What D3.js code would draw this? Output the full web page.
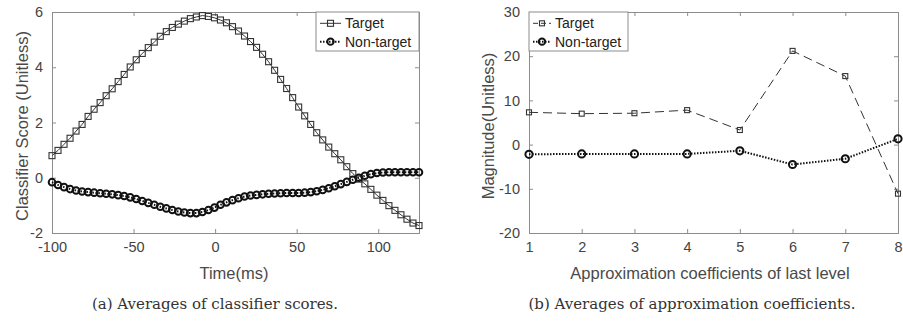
<!DOCTYPE html>
<html>
<head>
<meta charset="utf-8">
<script src="https://cdn.jsdelivr.net/npm/d3@7"></script>
<style>
  body { margin: 0; background: #fff; }
  .tick text { font-family: "Liberation Sans", Arial, sans-serif; font-size: 14.5px; fill: #444; }
  .lbl { font-family: "Liberation Sans", Arial, sans-serif; font-size: 16.5px; fill: #4a4a4a; }
  .cap { font-family: "DejaVu Serif", serif; font-size: 15px; fill: #333; }
  .leg { font-family: "Liberation Sans", Arial, sans-serif; font-size: 14px; fill: #222; }
</style>
</head>
<body>
<svg id="chart" width="903" height="321"></svg>
<script>
// DATA (a) classifier scores
const timeMs = [-100, -96.31, -92.62, -88.93, -85.25, -81.56, -77.87, -74.18, -70.49, -66.8,
  -63.11, -59.43, -55.74, -52.05, -48.36, -44.67, -40.98, -37.3, -33.61, -29.92,
  -26.23, -22.54, -18.85, -15.16, -11.48, -7.79, -4.1, -0.41, 3.28, 6.97,
  10.66, 14.34, 18.03, 21.72, 25.41, 29.1, 32.79, 36.48, 40.16, 43.85,
  47.54, 51.23, 54.92, 58.61, 62.3, 65.98, 69.67, 73.36, 77.05, 80.74,
  84.43, 88.11, 91.8, 95.49, 99.18, 102.87, 106.56, 110.25, 113.93, 117.62,
  121.31, 125];
const targetScore = [0.80, 0.99, 1.21, 1.43, 1.69, 1.93, 2.22, 2.48, 2.72, 2.97,
  3.22, 3.48, 3.74, 4.01, 4.27, 4.50, 4.71, 4.91, 5.12, 5.29,
  5.44, 5.56, 5.67, 5.76, 5.82, 5.87, 5.84, 5.79, 5.71, 5.61,
  5.47, 5.31, 5.13, 4.93, 4.72, 4.47, 4.20, 3.89, 3.56, 3.23,
  2.90, 2.56, 2.24, 1.93, 1.63, 1.37, 1.11, 0.87, 0.65, 0.40,
  0.15, -0.05, -0.22, -0.42, -0.63, -0.82, -1.01, -1.18, -1.34, -1.50,
  -1.64, -1.73];
const nonTargetScore = [-0.16, -0.26, -0.34, -0.41, -0.46, -0.50, -0.52, -0.54, -0.56, -0.58,
  -0.60, -0.63, -0.66, -0.71, -0.77, -0.84, -0.91, -0.98, -1.05, -1.11,
  -1.17, -1.22, -1.26, -1.28, -1.28, -1.24, -1.17, -1.08, -0.98, -0.89,
  -0.81, -0.74, -0.68, -0.64, -0.62, -0.60, -0.58, -0.57, -0.56, -0.55,
  -0.55, -0.55, -0.54, -0.52, -0.49, -0.44, -0.38, -0.31, -0.23, -0.15,
  -0.07, 0.00, 0.07, 0.13, 0.17, 0.19, 0.20, 0.20, 0.20, 0.20,
  0.20, 0.20];
const timeTicks = [-100, -50, 0, 50, 100];
const scoreTicks = [-2, 0, 2, 4, 6];

// DATA (b) approximation coefficients
const coefIndex = [1, 2, 3, 4, 5, 6, 7, 8];
const targetCoef = [7.3, 7.0, 7.1, 7.8, 3.3, 21.2, 15.5, -11.1];
const nonTargetCoef = [-2.2, -2.1, -2.1, -2.1, -1.4, -4.5, -3.2, 1.3];
const coefTicks = [-20, -10, 0, 10, 20, 30];

const seriesNames = ['Target', 'Non-target'];

const svg = d3.select('#chart');
const axisColor = '#8c8c8c';

function drawFrame(g, x, y, xTicks, yTicks) {
  const [x0, x1] = x.range();
  const [y0, y1] = y.range();
  g.append('g').attr('transform', `translate(0,${y0})`)
    .call(d3.axisBottom(x).tickValues(xTicks).tickSize(-4).tickPadding(9).tickFormat(d3.format('d')));
  g.append('g').attr('transform', `translate(0,${y1})`)
    .call(d3.axisTop(x).tickValues(xTicks).tickSize(-4).tickFormat(''));
  g.append('g').attr('transform', `translate(${x0},0)`)
    .call(d3.axisLeft(y).tickValues(yTicks).tickSize(-4).tickPadding(9).tickFormat(d3.format('d')));
  g.append('g').attr('transform', `translate(${x1},0)`)
    .call(d3.axisRight(y).tickValues(yTicks).tickSize(-4).tickFormat(''));
  g.selectAll('.domain, .tick line').attr('stroke', axisColor);
  g.selectAll('.tick text').attr('fill', '#444').text(function() { return this.textContent.replace('−', '-'); });
}

function squareMarks(g, pts, size, color) {
  g.selectAll(null).data(pts).enter()
    .append('rect')
      .attr('x', d => d[0] - size / 2)
      .attr('y', d => d[1] - size / 2)
      .attr('width', size)
      .attr('height', size)
      .attr('fill', 'none')
      .attr('stroke', color)
      .attr('stroke-width', 1.1);
}

function circleMarks(g, pts, r, color) {
  g.selectAll(null).data(pts).enter()
    .append('circle')
      .attr('cx', d => d[0])
      .attr('cy', d => d[1])
      .attr('r', r)
      .attr('fill', 'none')
      .attr('stroke', color)
      .attr('stroke-width', 2);
}

function legend(g, x, y, w, h, lineLen, targetDash, markSize) {
  g.append('rect').attr('x', x).attr('y', y).attr('width', w).attr('height', h)
    .attr('fill', '#fff').attr('stroke', axisColor);
  const rows = [y + h * 0.29, y + h * 0.76];
  // Target
  g.append('line').attr('x1', x + 4).attr('x2', x + 4 + lineLen).attr('y1', rows[0]).attr('y2', rows[0])
    .attr('stroke', '#333').attr('stroke-width', 1).attr('stroke-dasharray', targetDash);
  squareMarks(g, [[x + 4 + lineLen / 2, rows[0]]], markSize, '#333');
  // Non-target
  g.append('line').attr('x1', x + 4).attr('x2', x + 4 + lineLen).attr('y1', rows[1]).attr('y2', rows[1])
    .attr('stroke', '#111').attr('stroke-width', 2).attr('stroke-dasharray', '1.5,1.5');
  circleMarks(g, [[x + 4 + lineLen / 2, rows[1]]], 3.2, '#111');
  g.selectAll(null).data(seriesNames).enter()
    .append('text')
      .attr('class', 'leg')
      .attr('x', x + 8 + lineLen)
      .attr('y', (d, i) => rows[i] + 5)
      .text(d => d);
}

// ---------- (a) ----------
const xA = d3.scaleLinear().domain([-100, 125]).range([52, 419]);
const yA = d3.scaleLinear().domain([-2, 6]).range([233, 12]);
const gA = svg.append('g');
drawFrame(gA, xA, yA, timeTicks, scoreTicks);

const lineA = d3.line().x(d => xA(d[0])).y(d => yA(d[1]));
const tPts = timeMs.map((t, i) => [t, targetScore[i]]);
const nPts = timeMs.map((t, i) => [t, nonTargetScore[i]]);
gA.append('path').attr('d', lineA(tPts)).attr('fill', 'none').attr('stroke', '#333').attr('stroke-width', 1);
squareMarks(gA, tPts.map(d => [xA(d[0]), yA(d[1])]), 6, '#333');
gA.append('path').attr('d', lineA(nPts)).attr('fill', 'none').attr('stroke', '#111')
  .attr('stroke-width', 2).attr('stroke-dasharray', '1.5,1.5');
circleMarks(gA, nPts.map(d => [xA(d[0]), yA(d[1])]), 3.3, '#111');

legend(gA, 316, 12, 103, 39, 21, null, 6);

gA.append('text').attr('class', 'lbl').attr('text-anchor', 'middle')
  .attr('x', 234).attr('y', 279).text('Time(ms)');
gA.append('text').attr('class', 'lbl').attr('text-anchor', 'middle')
  .attr('transform', 'translate(28,126) rotate(-90)').text('Classifier Score (Unitless)');
gA.append('text').attr('class', 'cap').attr('text-anchor', 'middle')
  .attr('x', 215).attr('y', 309).text('(a)  Averages of classifier scores.');

// ---------- (b) ----------
const xB = d3.scaleLinear().domain([1, 8]).range([529, 898]);
const yB = d3.scaleLinear().domain([-20, 30]).range([233, 12]);
const gB = svg.append('g');
drawFrame(gB, xB, yB, coefIndex, coefTicks);

const lineB = d3.line().x(d => xB(d[0])).y(d => yB(d[1]));
const tB = coefIndex.map((c, i) => [c, targetCoef[i]]);
const nB = coefIndex.map((c, i) => [c, nonTargetCoef[i]]);
gB.append('path').attr('d', lineB(tB)).attr('fill', 'none').attr('stroke', '#333')
  .attr('stroke-width', 1).attr('stroke-dasharray', '9,5');
squareMarks(gB, tB.map(d => [xB(d[0]), yB(d[1])]), 5, '#333');
gB.append('path').attr('d', lineB(nB)).attr('fill', 'none').attr('stroke', '#111')
  .attr('stroke-width', 2).attr('stroke-dasharray', '1.5,1.5');
circleMarks(gB, nB.map(d => [xB(d[0]), yB(d[1])]), 3.6, '#111');

legend(gB, 529, 12, 99, 39, 18, '5,3', 5);

gB.append('text').attr('class', 'lbl').attr('text-anchor', 'middle')
  .attr('x', 710).attr('y', 279).text('Approximation coefficients of last level');
gB.append('text').attr('class', 'lbl').attr('text-anchor', 'middle')
  .attr('transform', 'translate(494,126) rotate(-90)').text('Magnitude(Unitless)');
gB.append('text').attr('class', 'cap').attr('text-anchor', 'middle')
  .attr('x', 692).attr('y', 309).text('(b)  Averages of approximation coefficients.');
</script>
</body>
</html>
